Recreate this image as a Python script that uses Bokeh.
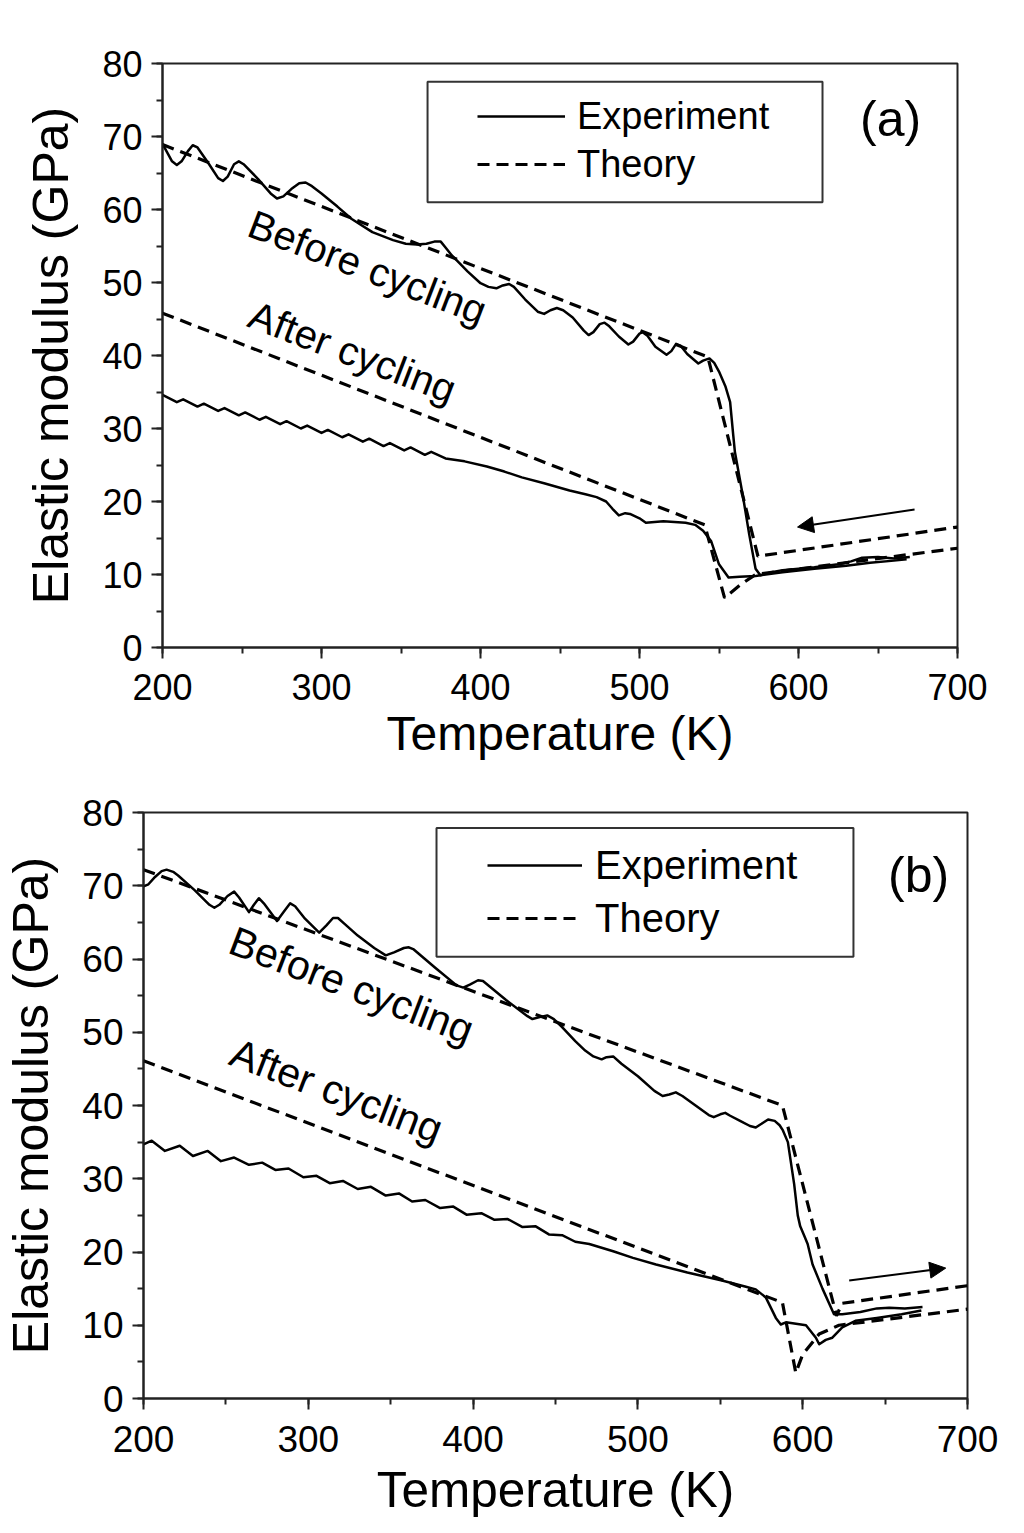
from bokeh.plotting import figure
from bokeh.models import (Range1d, SingleIntervalTicker, Legend, LegendItem,
                          BoxAnnotation, Label, Arrow, NormalHead)
from bokeh.layouts import column
from bokeh.embed import file_html
from bokeh.resources import INLINE

FONT = "Liberation Sans"

# ---------------- Panel (a) data ----------------
A_BEFORE_EXP_T = [200, 203, 206, 209, 212, 216, 219, 222, 229, 235, 238, 241, 245, 248, 251, 260,
                  268, 272, 276, 281, 286, 290, 294, 300, 310, 319, 332, 345, 353, 360, 366, 371,
                  375, 378, 382, 392, 400, 405, 410, 414, 418, 421, 428, 436, 440, 444, 448, 452,
                  458, 465, 468, 471, 475, 478, 481, 487, 493, 496, 500, 502, 505, 510, 517, 520,
                  523, 526, 530, 537, 540, 544, 547, 550, 554, 557, 559, 560, 565, 569, 573, 576,
                  583, 590, 600, 610, 625, 633, 640, 650, 660, 670]
A_BEFORE_EXP_E = [69.0, 67.8, 66.6, 66.1, 66.6, 68.0, 68.8, 68.5, 66.3, 64.3, 63.9, 64.5, 66.2, 66.6,
                  66.2, 64.2, 62.2, 61.5, 61.8, 62.8, 63.6, 63.7, 63.2, 62.2, 60.4, 58.7, 56.9, 55.8,
                  55.3, 55.2, 55.3, 55.6, 55.6, 54.8, 53.7, 51.5, 49.9, 49.4, 49.2, 49.6, 49.8, 49.4,
                  47.7, 46.0, 45.7, 46.2, 46.5, 46.2, 45.2, 43.4, 42.8, 43.2, 44.3, 44.5, 44.0, 42.6,
                  41.5, 41.9, 43.0, 43.2, 42.7, 41.2, 40.1, 40.6, 41.6, 41.3, 40.2, 38.9, 39.3, 39.6,
                  39.0, 37.8, 35.8, 33.6, 29.0, 26.8, 20.8, 15.5, 10.8, 9.9, 10.3, 10.6, 10.8, 11.0,
                  11.4, 11.8, 12.3, 12.4, 12.2, 12.4]

A_AFTER_EXP_T = [200, 209, 213, 222, 226, 235, 239, 248, 252, 261, 265, 274, 278, 287, 291, 300,
                 304, 313, 317, 326, 330, 339, 343, 352, 356, 365, 369, 378, 390, 404, 415, 426,
                 440, 456, 466, 473, 479, 483, 487, 491, 494, 500, 504, 515, 529, 535, 540, 545,
                 550, 556, 563, 573, 590, 610, 630, 645, 660, 668]
A_AFTER_EXP_E = [34.6, 33.6, 34.0, 33.0, 33.4, 32.4, 32.8, 31.8, 32.2, 31.2, 31.6, 30.6, 31.0, 30.0,
                 30.4, 29.4, 29.8, 28.8, 29.2, 28.2, 28.6, 27.6, 28.0, 27.0, 27.4, 26.4, 26.8, 25.9,
                 25.5, 24.8, 24.1, 23.3, 22.5, 21.5, 21.0, 20.6, 20.0, 19.0, 18.1, 18.4, 18.3, 17.7,
                 17.1, 17.3, 17.1, 16.8, 16.0, 14.6, 11.4, 9.6, 9.7, 9.8, 10.3, 10.8, 11.2, 11.6,
                 11.9, 12.1]

A_BEFORE_TH_T = [200, 543, 574.5, 700]
A_BEFORE_TH_E = [68.9, 39.8, 12.5, 16.5]
A_AFTER_TH_T = [200, 541, 553.5, 563.5, 573, 700]
A_AFTER_TH_E = [45.8, 16.8, 6.8, 8.6, 10.0, 13.6]

A_ARROW = (673, 18.9, 599.4, 16.5)   # start T, start E, end T, end E

# ---------------- Panel (b) data ----------------
B_BEFORE_EXP_T = [200, 203, 207, 211, 214, 218, 221, 231, 240, 243, 246, 251, 255, 258, 264, 267,
                  270, 273, 281, 285, 289, 292, 298, 306.6, 311, 315, 318, 322, 330, 340, 347, 352,
                  358, 361, 364, 377, 390, 394, 398, 403, 406, 420, 433, 436, 441, 445, 449, 454,
                  462, 468, 473, 478, 481, 485, 490, 500, 510, 515, 519, 523, 527, 535, 543, 546,
                  550, 553, 556, 562, 568, 571.5, 575, 579, 583, 586, 588, 591, 593, 594.8, 597,
                  598.5, 601, 603, 606, 612, 619, 624, 635, 645, 652.5, 662, 672.7]
B_BEFORE_EXP_E = [69.9, 70.2, 71.2, 72.0, 72.2, 71.9, 71.4, 69.4, 67.4, 67.0, 67.4, 68.6, 69.2, 68.4,
                  66.4, 67.4, 68.3, 67.6, 65.2, 66.4, 67.6, 67.2, 65.5, 63.6, 64.6, 65.6, 65.6, 64.8,
                  63.2, 61.5, 60.5, 60.9, 61.5, 61.6, 61.3, 58.8, 56.4, 56.1, 56.5, 57.1, 57.0, 54.4,
                  52.2, 51.8, 52.1, 52.3, 51.8, 50.7, 48.8, 47.5, 46.7, 46.3, 46.6, 46.7, 45.7, 44.0,
                  42.0, 41.3, 41.5, 41.8, 41.3, 40.0, 38.7, 38.4, 38.8, 39.0, 38.6, 37.9, 37.2, 37.0,
                  37.5, 38.1, 37.9, 37.3, 36.6, 35.0, 32.0, 29.3, 25.0, 23.5, 22.2, 21.1, 18.3, 15.0,
                  11.5, 11.5, 11.8, 12.3, 12.4, 12.3, 12.5]

B_AFTER_EXP_T = [200, 205, 213, 222, 230, 239, 247, 255, 264, 272, 280, 288, 297, 305, 313, 321,
                 330, 338, 347, 355, 363, 371, 380, 388, 396, 405, 413, 421, 430, 438, 446, 454,
                 462, 470.5, 485, 497, 511, 530, 551, 565, 571.5, 577.6, 583.7, 586.7, 589.8, 602,
                 608, 610, 614, 618, 624, 632, 645, 660, 672]
B_AFTER_EXP_E = [34.7, 35.2, 33.8, 34.5, 33.1, 33.8, 32.4, 32.9, 31.9, 32.2, 31.2, 31.4, 30.2, 30.4,
                 29.4, 29.7, 28.6, 28.9, 27.7, 28.0, 26.9, 27.1, 26.0, 26.2, 25.1, 25.3, 24.4, 24.5,
                 23.4, 23.5, 22.4, 22.3, 21.4, 21.1, 20.1, 19.2, 18.3, 17.2, 16.1, 15.3, 14.9, 13.8,
                 11.0, 10.1, 10.4, 10.0, 8.3, 7.4, 8.0, 8.3, 9.7, 10.6, 11.0, 11.5, 12.0]

B_BEFORE_TH_T = [200, 587.7, 620.5, 624, 700]
B_BEFORE_TH_E = [72.2, 40.0, 11.3, 13.0, 15.4]
B_AFTER_TH_T = [200, 587.7, 595.8, 600, 610, 622, 700]
B_AFTER_TH_E = [46.1, 13.1, 3.5, 6.0, 8.8, 10.0, 12.2]

B_ARROW = (628.2, 16.1, 686.8, 17.8)

X_LABEL = "Temperature (K)"
Y_LABEL = "Elastic modulus (GPa)"
LEGEND_LABELS = ["Experiment", "Theory"]


def make_panel(tag, before_exp, after_exp, before_th, after_th, arrow,
               frame_w, frame_h, borders, margin_left, tick_size, title_size,
               x_std, xl_std, legend_cfg, box, tag_pos, text_pos, text_size):
    left, right, top, bottom = borders
    p = figure(frame_width=frame_w, frame_height=frame_h,
               x_range=Range1d(200, 700), y_range=Range1d(0, 80),
               output_backend="svg", toolbar_location=None,
               min_border_left=left, min_border_right=right,
               min_border_top=top, min_border_bottom=bottom,
               margin=(0, 0, 0, margin_left))
    p.background_fill_color = "white"
    p.border_fill_color = "white"
    p.outline_line_color = "#222222"
    p.outline_line_width = 2
    p.xgrid.visible = False
    p.ygrid.visible = False

    p.xaxis.ticker = SingleIntervalTicker(interval=100, num_minor_ticks=2)
    p.yaxis.ticker = SingleIntervalTicker(interval=10, num_minor_ticks=2)
    for ax in (p.xaxis, p.yaxis):
        ax.axis_line_color = "#222222"
        ax.axis_line_width = 2
        ax.major_tick_line_color = "#222222"
        ax.major_tick_line_width = 2
        ax.minor_tick_line_color = "#222222"
        ax.minor_tick_line_width = 2
        ax.major_tick_out = 11
        ax.major_tick_in = 0
        ax.minor_tick_out = 6
        ax.minor_tick_in = 0
        ax.major_label_text_font = FONT
        ax.major_label_text_font_size = tick_size
        ax.major_label_text_color = "black"
        ax.axis_label_text_font = FONT
        ax.axis_label_text_font_style = "normal"
        ax.axis_label_text_color = "black"
    p.xaxis.axis_label_text_font_size = title_size
    p.yaxis.axis_label_text_font_size = "50px"
    p.xaxis.major_label_standoff = x_std
    p.yaxis.major_label_standoff = 9
    p.xaxis.axis_label = X_LABEL
    p.yaxis.axis_label = Y_LABEL
    p.xaxis.axis_label_standoff = xl_std
    p.yaxis.axis_label_standoff = 20

    solid = dict(line_color="black", line_width=2.5, line_join="round")
    dashed = dict(line_color="black", line_width=3.2, line_dash="12 7")

    r_exp = p.line(before_exp[0], before_exp[1], **solid)
    p.line(after_exp[0], after_exp[1], **solid)
    r_th = p.line(before_th[0], before_th[1], **dashed)
    p.line(after_th[0], after_th[1], **dashed)

    p.add_layout(Arrow(end=NormalHead(size=16, fill_color="black", line_color="black"),
                       x_start=arrow[0], y_start=arrow[1], x_end=arrow[2], y_end=arrow[3],
                       line_color="black", line_width=2))

    # legend frame
    p.add_layout(BoxAnnotation(left=box[0], right=box[1], top=box[2], bottom=box[3],
                               fill_alpha=0, line_color="#333333", line_alpha=1.0,
                               line_width=2))
    lx, ly, lsize, lh, lsp, gw, lstd = legend_cfg
    legend = Legend(items=[LegendItem(label=LEGEND_LABELS[0], renderers=[r_exp]),
                           LegendItem(label=LEGEND_LABELS[1], renderers=[r_th])],
                    location=(lx, ly), padding=0, margin=0, spacing=lsp,
                    glyph_width=gw, glyph_height=lh, label_height=lh,
                    label_standoff=lstd, label_text_font=FONT, label_text_font_size=lsize,
                    label_text_color="black", border_line_alpha=0,
                    background_fill_alpha=0)
    p.add_layout(legend)

    p.add_layout(Label(x=tag_pos[0], y=tag_pos[1], text=tag, text_font=FONT,
                       text_font_size="50px", text_align="center", text_baseline="middle",
                       text_color="black"))
    for (tx, ty, txt) in text_pos:
        p.add_layout(Label(x=tx, y=ty, text=txt, text_font=FONT, text_font_size=text_size,
                           angle=-21, angle_units="deg", text_align="center",
                           text_baseline="middle", text_color="black"))
    return p


pa = make_panel("(a)",
                (A_BEFORE_EXP_T, A_BEFORE_EXP_E), (A_AFTER_EXP_T, A_AFTER_EXP_E),
                (A_BEFORE_TH_T, A_BEFORE_TH_E), (A_AFTER_TH_T, A_AFTER_TH_E), A_ARROW,
                795, 584, (141, 40, 63, 133), 19, "36px", "48px", 15, 4,
                (315, 461, "38px", 44, 4, 88, 12),
                (366.7, 615.1, 77.5, 61.0), (657.9, 72.4),
                [(329, 52.1, "Before cycling"), (319.5, 40.5, "After cycling")], "40px")

pb = make_panel("(b)",
                (B_BEFORE_EXP_T, B_BEFORE_EXP_E), (B_AFTER_EXP_T, B_AFTER_EXP_E),
                (B_BEFORE_TH_T, B_BEFORE_TH_E), (B_AFTER_TH_T, B_AFTER_TH_E), B_ARROW,
                824, 586, (141, 40, 32, 127), 0, "37px", "49.5px", 16, 7,
                (344, 456, "40px", 48, 5, 95, 13),
                (377.8, 630.8, 77.9, 60.3), (670.3, 71.4),
                [(326.2, 56.4, "Before cycling"), (317.1, 42.0, "After cycling")], "41px")

layout = column(pa, pb, spacing=0)
open("out.html", "w").write(file_html(layout, INLINE))
